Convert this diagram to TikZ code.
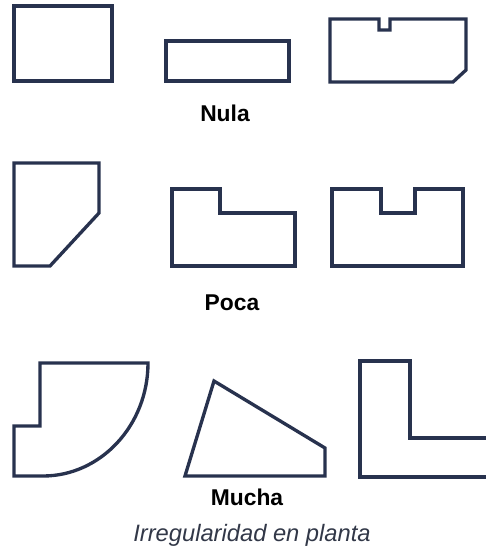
\documentclass[tikz,border=0pt]{standalone}
\usepackage{fontspec}
\setmainfont{Liberation Sans}
\usepackage{xcolor}
\definecolor{plan}{RGB}{40,50,78}
\definecolor{caption}{RGB}{50,56,72}

\begin{document}
\begin{tikzpicture}[x=0.02cm,y=-0.02cm,line width=1.9pt,line join=miter]
\useasboundingbox (0,0) rectangle (486,552);
\clip (0,0) rectangle (486,552);

% Nula
\draw[plan] (14,6) rectangle (112,81);
\draw[plan] (166,41) rectangle (289,81);
\draw[plan] (330,19) -- (379,19) -- (379,30) -- (390,30) -- (390,19) -- (466,19)
  -- (466,70) -- (453,82) -- (330,82) -- cycle;
\node[font=\bfseries\fontsize{13}{15}\selectfont] (nula) at (225,113) {Nula};

% Poca
\draw[plan] (14,163) -- (99,163) -- (99,213) -- (50,266) -- (14,266) -- cycle;
\draw[plan] (172,189) -- (220,189) -- (220,213) -- (295,213) -- (295,266)
  -- (172,266) -- cycle;
\draw[plan] (332,189) -- (381,189) -- (381,213) -- (415,213) -- (415,189)
  -- (463,189) -- (463,266) -- (332,266) -- cycle;
\node[font=\bfseries\fontsize{13}{15}\selectfont] (poca) at (232,303) {Poca};

% Mucha
\draw[plan] (40,363) -- (148,363) .. controls (148,425) and (101,476) .. (43,476)
  -- (14,476) -- (14,426) -- (40,426) -- cycle;
\draw[plan] (185,476) -- (214,381) -- (325,448) -- (325,476) -- cycle;
\draw[plan] (495,438) -- (410,438) -- (410,361) -- (360,361) -- (360,477) -- (495,477);
\node[font=\bfseries\fontsize{13}{15}\selectfont] (mucha) at (247,497) {Mucha};

% titulo
\node[font=\itshape\fontsize{13.5}{16}\selectfont,text=caption] (titulo) at (252,535)
  {Irregularidad en planta};

\end{tikzpicture}
\end{document}
